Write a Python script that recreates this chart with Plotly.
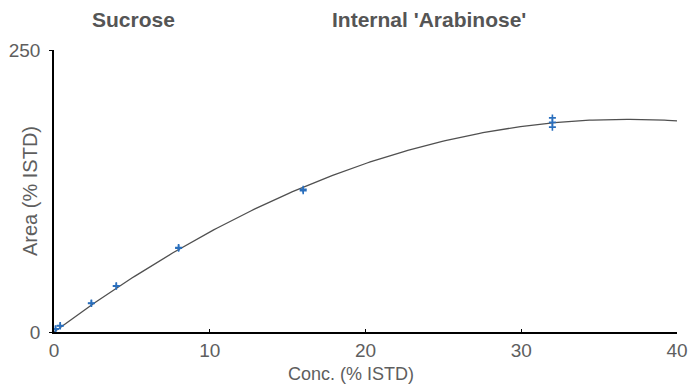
import numpy as np
import plotly.graph_objects as go

conc = [0.1, 0.1, 0.4, 0.4, 2.4, 2.4, 4, 4, 8, 8, 16, 16, 32, 32, 32]
area = [2.5, 2.9, 5.4, 5.8, 25.2, 25.7, 40.5, 41.0, 74.2, 74.9, 125.3, 126.6, 189.8, 185.8, 181.6]
x_ticks = [0, 10, 20, 30, 40]
y_ticks = [0, 250]
titles = ["Sucrose", "Internal 'Arabinose'"]

# quadratic calibration fit through origin
X = np.column_stack([conc, np.square(conc)])
coef, *_ = np.linalg.lstsq(X, np.array(area), rcond=None)
xf = np.linspace(0, 40, 200)
yf = coef[0] * xf + coef[1] * xf ** 2

font = "Liberation Sans, Arial, Helvetica, sans-serif"
gray = "#5e5e5e"
tgray = "#555555"

L, R, T, B = 54, 12, 50, 56
W, H = 689, 388
pw, ph = W - L - R, H - T - B


def px(x):
    return (x - L) / pw


def py(y):
    return (H - B - y) / ph


fig = go.Figure()
fig.add_trace(go.Scatter(x=xf, y=yf, mode="lines",
                         line=dict(color="#505050", width=1.3),
                         hoverinfo="skip", showlegend=False))
fig.add_trace(go.Scatter(x=conc, y=area, mode="markers",
                         marker=dict(symbol="cross-thin", size=5,
                                     line=dict(color="#2a6fbd", width=1.6)),
                         showlegend=False))

tfont = dict(size=21, color=tgray, family=font)
afont = dict(size=18, color=gray, family=font)
yfont = dict(size=20, color=gray, family=font)
fig.update_layout(
    width=W, height=H,
    margin=dict(l=L, r=R, t=T, b=B),
    paper_bgcolor="white", plot_bgcolor="white",
    font=dict(family=font, color=gray),
    annotations=[
        dict(text="<b>%s</b>" % titles[0], x=px(133), y=py(20), xref="paper", yref="paper",
             xanchor="center", yanchor="middle", showarrow=False, font=tfont),
        dict(text="<b>%s</b>" % titles[1], x=px(429), y=py(20), xref="paper", yref="paper",
             xanchor="center", yanchor="middle", showarrow=False, font=tfont),
        dict(text="Conc. (% ISTD)", x=px(351), y=py(374), xref="paper", yref="paper",
             xanchor="center", yanchor="middle", showarrow=False, font=afont),
        dict(text="Area (% ISTD)", x=px(30), y=py(191), xref="paper", yref="paper",
             xanchor="center", yanchor="middle", showarrow=False, font=yfont, textangle=-90),
    ],
)

fig.update_xaxes(range=[0, 40], tickvals=x_ticks, showgrid=False, zeroline=False,
                 showline=True, linecolor="black", linewidth=1.5,
                 ticks="inside", ticklen=3, tickcolor="black", automargin=False,
                 tickfont=dict(size=19, color=gray, family=font))
fig.update_yaxes(range=[0, 250], tickvals=y_ticks, showgrid=False, zeroline=False,
                 showline=True, linecolor="black", linewidth=1.5,
                 ticks="outside", ticklen=3, tickcolor="black", automargin=False,
                 ticklabelstandoff=5,
                 tickfont=dict(size=19, color=gray, family=font))

fig.write_html("out.html")
